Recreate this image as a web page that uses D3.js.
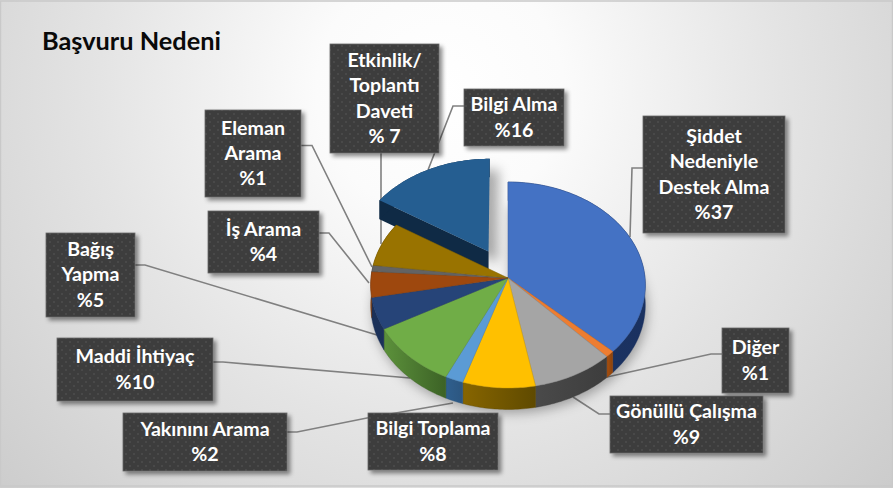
<!DOCTYPE html>
<html><head><meta charset="utf-8">
<style>html,body{margin:0;padding:0;background:#fff}svg{display:block}</style>
<script src="https://cdn.jsdelivr.net/npm/d3@7"></script></head>
<body><div id="c"></div>
<script>
const categories=["Şiddet Nedeniyle Destek Alma","Diğer","Gönüllü Çalışma","Bilgi Toplama","Yakınını Arama","Maddi İhtiyaç","Bağış Yapma","İş Arama","Eleman Arama","Etkinlik/ Toplantı Daveti","Bilgi Alma"];
const values=[37,1,9,8,2,10,5,4,1,7,16];
const labelLines=[["Şiddet","Nedeniyle","Destek Alma","%37"],["Diğer","%1"],["Gönüllü Çalışma","%9"],["Bilgi Toplama","%8"],["Yakınını Arama","%2"],["Maddi İhtiyaç","%10"],["Bağış","Yapma","%5"],["İş Arama","%4"],["Eleman","Arama","%1"],["Etkinlik/","Toplantı","Daveti","% 7"],["Bilgi Alma","%16"]];
const topColors=["#4472C4","#ED7D31","#A5A5A5","#FFC000","#5B9BD5","#70AD47","#264478","#9E480E","#636363","#997300","#255E91"];
const wallLeft=["#1c3563","#a8500f","#4a4a4a","#876500","#2f5f8e","#5c913b","#1b3159","#6e320a","#444444","#6b5000","#0f2a45"];
const wallRight=["#1a3160","#8a420c","#3d3d3d","#5f4a00","#2c5680","#3c6226","#1b3159","#6e320a","#444444","#6b5000","#0f2a45"];
const explode=[0,0,0,0,0,0,0,0,0,0,0.3];
// label box layout [x0,y0,x1,y1]
const boxes=[[643,116,785,233],[722,328,789,393],[610,396,763,453],[368,413,498,470],[123,413,287,471],[57,338,213,401],[46,233,135,317],[208,211,319,273],[205,110,301,197],[330,44,439,153],[464,89,564,146]];
const leaders=[[[643,168],[632,168],[630,237]],[[722,354],[711,354],[607,377]],[[610,414],[599,414],[573,397]],[],[[287,432],[297,432],[367,418],[453,403]],[[213,362],[223,362],[410,378]],[[135,265],[145,265],[377,335]],[[319,233],[329,233],[369,283]],[[301,145.5],[312,145.5],[372,267]],[[381,153],[381,244]],[[464,106],[453,106],[428,170]]];

const W=893,H=488,cx=508,cy=278,rx=137,ry=102.5,persp=0.068,depth=20;
const svg=d3.select("#c").append("svg").attr("width",W).attr("height",H);
const defs=svg.append("defs");
const bg=defs.append("radialGradient").attr("id","bg").attr("gradientUnits","userSpaceOnUse")
  .attr("cx",440).attr("cy",90).attr("r",620);
bg.append("stop").attr("offset",0).attr("stop-color","#ffffff");
bg.append("stop").attr("offset",0.2).attr("stop-color","#fbfbfb");
bg.append("stop").attr("offset",0.55).attr("stop-color","#e4e4e4");
bg.append("stop").attr("offset",1).attr("stop-color","#cacaca");
const pat=defs.append("pattern").attr("id","dots").attr("width",8).attr("height",8).attr("patternUnits","userSpaceOnUse");
pat.append("rect").attr("width",8).attr("height",8).attr("fill","#3c3c3c");
pat.append("circle").attr("cx",2).attr("cy",2).attr("r",1).attr("fill","#4c4c4c");
pat.append("circle").attr("cx",6).attr("cy",6).attr("r",1).attr("fill","#4c4c4c");
const blur=defs.append("filter").attr("id","blur").attr("x","-30%").attr("y","-30%").attr("width","160%").attr("height","160%");
blur.append("feGaussianBlur").attr("stdDeviation",6);
const sh=defs.append("filter").attr("id","boxsh").attr("x","-20%").attr("y","-20%").attr("width","140%").attr("height","140%");
sh.append("feDropShadow").attr("dx",3).attr("dy",3).attr("stdDeviation",2.2).attr("flood-color","#000").attr("flood-opacity",0.45);

svg.append("rect").attr("width",W).attr("height",H).attr("fill","url(#bg)");
svg.append("rect").attr("x",0.5).attr("y",1).attr("width",W-1).attr("height",H-3).attr("fill","none").attr("stroke","#c9c9c9").attr("stroke-width",1.5);

svg.append("text").attr("x",42).attr("y",50).attr("font-family","Lato").attr("font-weight",700).attr("font-size",25.3).attr("fill","#0a0a0a").text("Başvuru Nedeni");

// leader lines
const line=d3.line();
svg.append("g").selectAll("path").data(leaders.filter(l=>l.length)).join("path")
  .attr("d",line).attr("fill","none").attr("stroke","#808080").attr("stroke-width",1.6);

// projection of the disc onto the page
function proj(u,v,z){const s=1/(1+persp*v);return [cx+rx*u*s,cy-ry*v*s+z*s];}
const pie=d3.pie().sort(null).value(d=>d)(values);
function rim(d,off,z){
  const step=Math.PI/180,a=d3.range(d.startAngle,d.endAngle,step).concat(d.endAngle);
  return a.map(t=>proj(Math.sin(t)+off[0],Math.cos(t)+off[1],z));
}
function offs(d,i){const m=(d.startAngle+d.endAngle)/2;return [explode[i]*Math.sin(m),explode[i]*Math.cos(m)];}
function topPath(d,i){const o=offs(d,i);return line([proj(o[0],o[1],0),...rim(d,o,0)])+"Z";}
function wallPath(d,i){const o=offs(d,i),a=rim(d,o,0),b=rim(d,o,depth).reverse();return line([...a,...b])+"Z";}
function cutPath(d,i){const o=offs(d,i),p0=proj(o[0],o[1],0),p1=proj(o[0],o[1],depth),r0=rim(d,o,0)[0],r1=rim(d,o,depth)[0];return line([p0,r0,r1,p1])+"Z";}

pie.forEach((d,i)=>{
  const r=rim(d,[0,0],0),xs=d3.extent(r,p=>p[0]);
  const g=defs.append("linearGradient").attr("id","w"+i).attr("gradientUnits","userSpaceOnUse")
    .attr("x1",xs[0]).attr("x2",xs[1]).attr("y1",0).attr("y2",0);
  g.append("stop").attr("offset",0).attr("stop-color",wallLeft[i]);
  g.append("stop").attr("offset",1).attr("stop-color",wallRight[i]);
});

const ex=pie.map((d,i)=>({d,i})).filter(e=>explode[e.i]>0);
const main=pie.map((d,i)=>({d,i})).filter(e=>explode[e.i]===0);

// soft shadows
const shadow=svg.append("g").attr("filter","url(#blur)").attr("fill","#000");
shadow.selectAll("path.m").data(main).join("path").attr("class","m")
  .attr("d",e=>topPath(e.d,e.i)).attr("transform","translate(2,"+(depth+5)+")").attr("opacity",0.32);
shadow.selectAll("path.e").data(ex).join("path").attr("class","e")
  .attr("d",e=>topPath(e.d,e.i)).attr("transform","translate(9,11)").attr("opacity",0.32);

// exploded slice first (it sits behind the main body)
const gx=svg.append("g");
gx.selectAll("path.c").data(ex).join("path").attr("class","c").attr("d",e=>cutPath(e.d,e.i)).attr("fill",e=>wallLeft[e.i]);
gx.selectAll("path.w").data(ex).join("path").attr("class","w").attr("d",e=>wallPath(e.d,e.i)).attr("fill",e=>wallLeft[e.i]);
gx.selectAll("path.t").data(ex).join("path").attr("class","t").attr("d",e=>topPath(e.d,e.i)).attr("fill",e=>topColors[e.i]);

// main body
const gm=svg.append("g");
gm.selectAll("path.w").data(main).join("path").attr("class","w").attr("d",e=>wallPath(e.d,e.i))
  .attr("fill",e=>"url(#w"+e.i+")").attr("stroke",e=>wallRight[e.i]).attr("stroke-width",0.4);
gm.selectAll("path.t").data(main).join("path").attr("class","t").attr("d",e=>topPath(e.d,e.i))
  .attr("fill",e=>topColors[e.i]).attr("stroke",e=>d3.color(topColors[e.i]).darker(0.5)).attr("stroke-width",0.5);

// data labels
const lab=svg.append("g").selectAll("g").data(categories).join("g").attr("data-name",d=>d);
lab.append("rect").attr("x",(d,i)=>boxes[i][0]).attr("y",(d,i)=>boxes[i][1])
  .attr("width",(d,i)=>boxes[i][2]-boxes[i][0]).attr("height",(d,i)=>boxes[i][3]-boxes[i][1])
  .attr("fill","url(#dots)").attr("stroke","#6a6a6a").attr("stroke-width",0.8).attr("filter","url(#boxsh)");
lab.each(function(d,i){
  const b=boxes[i],ls=labelLines[i],lh=25.2,mid=(b[1]+b[3])/2,t0=mid-(ls.length-1)*lh/2;
  d3.select(this).selectAll("text").data(ls).join("text")
    .attr("x",(b[0]+b[2])/2).attr("y",(s,k)=>t0+k*lh+6.4).attr("text-anchor","middle")
    .attr("font-family","Lato").attr("font-weight",700).attr("font-size",19.6).attr("fill","#fff").text(s=>s);
});
</script></body></html>
